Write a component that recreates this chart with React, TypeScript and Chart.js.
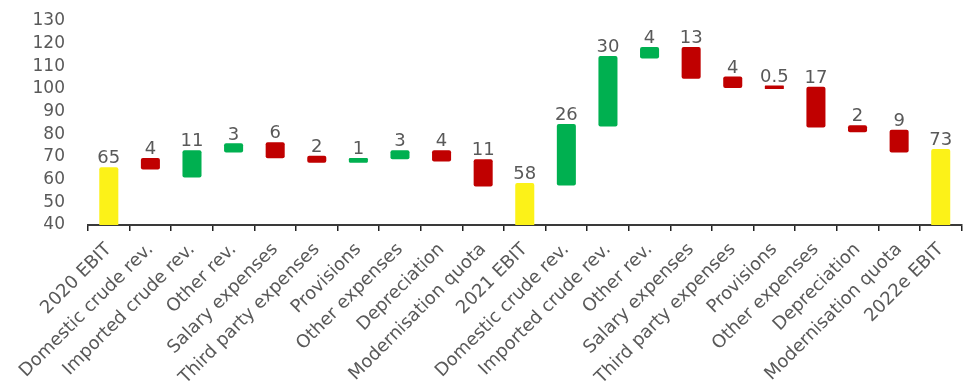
import React, { useEffect, useRef } from "react";
import { Chart, registerables } from "chart.js";

Chart.register(...registerables);

const categories = [
  "2020 EBIT",
  "Domestic crude rev.",
  "Imported crude rev.",
  "Other rev.",
  "Salary expenses",
  "Third party expenses",
  "Provisions",
  "Other expenses",
  "Depreciation",
  "Modernisation quota",
  "2021 EBIT",
  "Domestic crude rev.",
  "Imported crude rev.",
  "Other rev.",
  "Salary expenses",
  "Third party expenses",
  "Provisions",
  "Other expenses",
  "Depreciation",
  "Modernisation quota",
  "2022e EBIT",
];

const barStart = [0, 65, 61.5, 72.5, 70, 68, 68, 69.5, 68.5, 57.5, 0, 58, 84, 114, 105, 101, 100.5, 83.5, 81.5, 72.5, 0];
const barEnd = [65, 69, 72.5, 75.5, 76, 70, 69, 72.5, 72.5, 68.5, 58, 84, 114, 118, 118, 105, 101, 100.5, 83.5, 81.5, 73];
const valueLabels = ["65", "4", "11", "3", "6", "2", "1", "3", "4", "11", "58", "26", "30", "4", "13", "4", "0.5", "17", "2", "9", "73"];
const barKind = [
  "total", "neg", "pos", "pos", "neg", "neg", "pos", "pos", "neg", "neg",
  "total", "pos", "pos", "pos", "neg", "neg", "neg", "neg", "neg", "neg", "total",
];

const yMin = 40;
const yMax = 130;
const yStep = 10;

const kindColor: Record<string, string> = {
  total: "#FCF218",
  pos: "#00B050",
  neg: "#C00000",
};

const FONT = "'DejaVu Sans', sans-serif";
const TEXT = "#595959";

const valueLabelPlugin = {
  id: "valueLabels",
  afterDatasetsDraw(chart: any) {
    const meta = chart.getDatasetMeta(0);
    const ctx = chart.ctx;
    ctx.save();
    ctx.font = `18px ${FONT}`;
    ctx.fillStyle = TEXT;
    ctx.textAlign = "center";
    ctx.textBaseline = "alphabetic";
    meta.data.forEach((el: any, i: number) => {
      const top = Math.min(el.y, el.base, chart.chartArea.bottom);
      ctx.fillText(valueLabels[i], el.x, top - 5);
    });
    ctx.restore();
  },
};

export default function App() {
  const canvasRef = useRef<HTMLCanvasElement | null>(null);

  useEffect(() => {
    if (!canvasRef.current) return;
    const chart = new Chart(canvasRef.current, {
      type: "bar",
      data: {
        labels: categories,
        datasets: [
          {
            data: barStart.map((s, i) => [s, barEnd[i]]) as any,
            backgroundColor: barKind.map((k) => kindColor[k]),
            borderWidth: 0,
            borderRadius: 2,
            borderSkipped: false,
            inflateAmount: 1.2,
            barPercentage: 0.4,
            categoryPercentage: 1,
          },
        ],
      },
      options: {
        animation: false,
        responsive: false,
        maintainAspectRatio: false,
        layout: { padding: { top: 21, right: 0, bottom: 0, left: 0 } },
        plugins: {
          legend: { display: false },
          tooltip: { enabled: false },
          title: { display: false },
        },
        scales: {
          x: {
            offset: true,
            grid: {
              offset: true,
              drawOnChartArea: false,
              drawTicks: true,
              tickLength: 6,
              color: "#222222",
              lineWidth: 1.5,
            },
            border: { display: true, color: "#3a3a3a", width: 2 },
            ticks: {
              autoSkip: false,
              minRotation: 45,
              maxRotation: 45,
              color: TEXT,
              font: { family: FONT, size: 18 },
              padding: 8,
            },
            afterFit(scale: any) {
              scale.height = 164;
            },
          },
          y: {
            min: yMin,
            max: yMax,
            grid: { display: false, drawTicks: true, tickLength: 23 },
            border: { display: false },
            ticks: {
              autoSkip: false,
              stepSize: yStep,
              color: TEXT,
              font: { family: FONT, size: 17 },
              padding: 0,
            },
            afterFit(scale: any) {
              scale.width = 88;
            },
          },
        },
      },
      plugins: [valueLabelPlugin],
    });
    return () => chart.destroy();
  }, []);

  return (
    <div style={{ position: "absolute", left: 0, top: 0, width: 964, height: 389 }}>
      <canvas ref={canvasRef} width={964} height={389} style={{ width: 964, height: 389 }} />
    </div>
  );
}
